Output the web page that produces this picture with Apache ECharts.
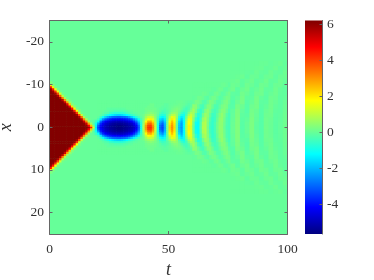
<!DOCTYPE html>
<html><head><meta charset="utf-8">
<style>html,body{margin:0;padding:0;background:#fff}#c{width:374px;height:280px;filter:blur(.4px)}</style>
<script src="https://cdn.jsdelivr.net/npm/echarts@6/dist/echarts.min.js"></script>
</head><body><div id="c"></div>
<script>
// Front triangle: t = 0.5, 1.5 ... one value per unit of t; keys are |x| rows. Unlisted cells are 0.
const triangleRowX = [0,.5,1,1.5,2,2.5,3,3.5,4,4.5,5,5.5,6,6.5,7,7.5,8,8.5,9,9.5,10,10.5];
const triangleRows = [
[6.2,6.2,6.2,6.2,6.2,6.2,6.2,6.2,6.2,6.2,6.2,6.2,6.2,6.2,6.2,6.2,5.9,4.4,1.4,-1.5],
[6.2,6.2,6.2,6.2,6.2,6.2,6.2,6.2,6.2,6.2,6.2,6.2,6.2,6.2,6.2,6,4.8,2.5,.3,-1.3],
[6.2,6.2,6.2,6.2,6.2,6.2,6.2,6.2,6.2,6.2,6.2,6.2,6.2,6.2,6.1,5.3,2.9,.6,-.2,-1],
[6.2,6.2,6.2,6.2,6.2,6.2,6.2,6.2,6.2,6.2,6.2,6.2,6.2,6.2,5.3,3.2,.6,0,-.1,-.5],
[6.2,6.2,6.2,6.2,6.2,6.2,6.2,6.2,6.2,6.2,6.2,6.2,6.2,5.6,3.2,.8,.1],
[6.2,6.2,6.2,6.2,6.2,6.2,6.2,6.2,6.2,6.2,6.2,6.2,5.7,3.5,.8,.1],
[6.2,6.2,6.2,6.2,6.2,6.2,6.2,6.2,6.2,6.2,6.2,5.8,3.8,1.1,.1],
[6.2,6.2,6.2,6.2,6.2,6.2,6.2,6.2,6.2,6.2,5.9,4.1,1.3,.1],
[6.2,6.2,6.2,6.2,6.2,6.2,6.2,6.2,6.2,6,4.4,1.7,.2],
[6.2,6.2,6.2,6.2,6.2,6.2,6.2,6.2,6.1,4.6,1.9,.2],
[6.2,6.2,6.2,6.2,6.2,6.2,6.2,6.1,4.9,2.1,.3],
[6.2,6.2,6.2,6.2,6.2,6.2,6.2,5,2.4,.3],
[6.2,6.2,6.2,6.2,6.2,6.2,5.3,2.8,.5],
[6.2,6.2,6.2,6.2,6.2,5.5,3,.6,.1],
[6.2,6.2,6.2,6.2,5.6,3.3,.8,.1],
[6.2,6.2,6.2,5.7,3.6,1,.1],
[6.2,6.2,5.8,3.9,1.3,.1],
[6.2,5.9,4.1,1.5,.1],
[6,4.5,1.7,.2],
[4.6,2,.2],
[2.1,.3],
[.3]
];
// Wake: blue blob and first oscillations, t = 20.5 ... 59.5.
const wakeRowX = [0,.5,1,1.5,2,2.5,3,3.5,4,4.5,5,5.5,6];
const wakeRows = [
[-3.5,-4.3,-4.7,-5,-5.2,-5.35,-5.45,-5.55,-5.65,-5.65,-5.6,-5.5,-5.4,-5.3,-5.1,-4.9,-4.4,-3.2,-1,.9,3,4.2,4.3,3.3,1.2,-1,-3,-3.4,-2.2,.2,2.3,3.1,2.2,-.1,-2,-2.4,-1.2,.8,1.9,1.3],
[-3.1,-4.1,-4.5,-4.9,-5.1,-5.3,-5.4,-5.5,-5.6,-5.6,-5.55,-5.45,-5.35,-5.2,-5,-4.7,-4.2,-3,-.9,.8,2.9,4,4.1,3.1,1.1,-.9,-2.9,-3.3,-2.1,.2,2.2,3,2.1,-.1,-1.9,-2.3,-1.1,.8,1.9,1.3],
[-2.3,-3.7,-4.3,-4.7,-4.9,-5.1,-5.25,-5.35,-5.4,-5.4,-5.35,-5.25,-5.15,-5,-4.8,-4.4,-3.7,-2.4,-.8,.6,2.4,3.4,3.6,2.7,1,-.9,-2.5,-3,-2,.1,2,2.8,2,0,-1.8,-2.3,-1.2,.7,1.8,1.4],
[-1.2,-2.8,-3.7,-4.2,-4.5,-4.7,-4.85,-4.95,-5,-5,-4.95,-4.85,-4.7,-4.5,-4.2,-3.7,-2.9,-1.8,-.6,.4,1.8,2.7,2.8,2.1,.8,-.7,-2.1,-2.5,-1.7,.1,1.8,2.5,1.8,.1,-1.6,-2.1,-1.2,.6,1.7,1.4],
[-.4,-1.4,-2.5,-3.2,-3.6,-3.9,-4.1,-4.2,-4.25,-4.25,-4.2,-4.1,-3.9,-3.7,-3.3,-2.6,-1.9,-1.1,-.4,.2,1.2,1.8,1.9,1.5,.6,-.5,-1.6,-1.9,-1.4,0,1.3,2,1.7,.3,-1.2,-1.8,-1.1,.4,1.5,1.4],
[-.1,-.5,-1.1,-1.7,-2.2,-2.6,-2.9,-3,-3.1,-3.1,-3,-2.9,-2.7,-2.3,-1.8,-1.3,-.8,-.4,-.1,.1,.7,1.1,1.2,1,.4,-.3,-1,-1.3,-1,-.1,.9,1.5,1.4,.5,-.8,-1.4,-1.1,.1,1.1,1.3],
[0,-.1,-.3,-.6,-.9,-1.2,-1.4,-1.6,-1.7,-1.7,-1.6,-1.4,-1.2,-.9,-.6,-.4,-.2,-.1,0,.1,.4,.6,.7,.6,.3,-.1,-.6,-.8,-.7,-.1,.5,.9,1,.5,-.3,-.9,-1,-.3,.7,1.1],
[0,0,-.1,-.2,-.3,-.5,-.6,-.7,-.7,-.7,-.7,-.6,-.4,-.3,-.2,-.1,-.1,0,0,0,.2,.3,.4,.3,.2,0,-.3,-.5,-.4,-.2,.15,.45,.6,.45,0,-.5,-.75,-.45,.25,.8],
[0,0,0,-.1,-.1,-.2,-.2,-.3,-.3,-.3,-.3,-.2,-.2,-.1,-.1,0,0,0,0,0,.1,.2,.2,.2,.1,0,-.1,-.3,-.3,-.2,0,.2,.35,.35,.15,-.2,-.45,-.45,-.15,.45],
[0,0,0,0,-.1,-.1,-.1,-.1,-.1,-.1,-.1,-.1,0,0,0,0,0,0,0,0,.1,.1,.1,.1,.1,0,-.1,-.1,-.2,-.1,0,.1,.2,.25,.2,0,-.25,-.4,-.25,.15],
[0,0,0,0,0,0,0,0,0,0,0,0,0,0,0,0,0,0,0,0,0,.1,.1,.1,0,0,0,-.1,-.1,-.1,0,.05,.1,.15,.15,.05,-.1,-.25,-.25,-.05],
[0,0,0,0,0,0,0,0,0,0,0,0,0,0,0,0,0,0,0,0,0,0,.1,.1,0,0,0,0,-.1,-.1,0,0,.05,.05,.1,.05,0,-.1,-.2,-.1],
[0,0,0,0,0,0,0,0,0,0,0,0,0,0,0,0,0,0,0,0,0,0,0,0,0,0,0,0,0,0,0,0,0,.05,.05,.05,0,-.05,-.1,-.1]
];
// Arcs, t = 60.5 ... 75.5, |x| = 0 ... 10.
const arcRowsNear = [
[0,-1.1,-1.15,-.15,.85,.9,.2,-.45,-.65,-.35,.1,.5,.45,.05,-.3,-.35],
[.1,-1,-1.15,-.25,.8,.9,.25,-.4,-.6,-.35,.1,.45,.45,.1,-.25,-.35],
[.4,-.65,-1,-.4,.55,.8,.35,-.25,-.6,-.45,0,.45,.5,.15,-.25,-.35],
[.7,-.2,-.75,-.6,.15,.6,.45,-.05,-.5,-.45,-.1,.3,.5,.25,-.15,-.35],
[.7,.25,-.35,-.6,-.25,.3,.5,.2,-.25,-.4,-.25,.1,.35,.35,.05,-.25],
[.45,.4,.05,-.3,-.4,-.05,.3,.35,.05,-.3,-.3,-.05,.2,.3,.2,-.12],
[0,.2,.2,.05,-.2,-.25,0,.25,.2,0,-.2,-.2,0,.2,.25,.05],
[-.05,0,.1,.13,.05,-.1,-.15,0,.15,.15,0,-.18,-.12,.05,.18,.15],
[0,0,0,0,.07,.06,0,-.1,-.08,.08,.14,0,-.14,-.1,.05,.15],
[0,0,0,0,0,0,0,0,-.05,-.07,0,.1,.06,-.08,-.1,0],
[0,0,0,0,0,0,0,0,0,0,0,0,.05,.07,0,-.08]
];
// Arcs, t = 77, 79 ... 99, |x| = 0 ... 15.
const arcRowsFar = [
[.05,.3,-.17,0,.25,-.07,-.18,.13,.03,-.11,-.02,.08],
[.03,.3,-.15,0,.25,-.05,-.18,.12,.05,-.11,-.03,.08],
[0,.3,-.13,-.06,.24,0,-.18,.11,.06,-.1,-.05,.08],
[-.03,.28,-.08,-.13,.2,.03,-.17,.08,.1,-.09,-.06,.07],
[-.06,.26,-.03,-.18,.16,.07,-.16,.05,.13,-.06,-.08,.06],
[-.17,.2,.06,-.17,.09,.17,-.12,-.02,.13,-.02,-.09,.04],
[-.2,.06,.18,-.14,0,.18,-.09,-.09,.12,.02,-.09,.02],
[-.14,-.03,.18,-.06,-.07,.16,-.02,-.12,.09,.06,-.08,-.02],
[-.09,-.11,.14,.03,-.11,.09,.12,-.1,.01,.1,-.05,-.06],
[.12,-.11,.03,.13,-.08,.01,.13,-.06,-.06,.1,-.02,-.07],
[.08,.03,-.08,.1,.03,-.08,.09,.06,-.09,.06,.07,-.06],
[.03,.08,-.07,.02,.09,-.07,-.02,.1,-.06,-.04,.09,0],
[0,.03,.07,-.07,.05,.03,-.07,.05,.08,-.07,.05,.06],
[0,0,0,-.03,-.05,.06,-.03,-.05,.07,-.03,-.05,.08],
[0,0,0,0,0,.02,.05,-.04,-.01,.07,-.05,.01],
[0,0,0,0,0,0,.02,.02,-.03,.01,.05,-.04]
];
const xTicks = [0,50,100];
const yTicks = [-20,-10,0,10,20];
const cbTicks = [-4,-2,0,2,4,6];
const valueMin = -5.65, valueMax = 6.23;
const jet = ['#00007f','#0000ff','#007fff','#00ffff','#7fff7f','#ffff00','#ff7f00','#ff0000','#7f0000'];

const cells = [];
function addBlock(rows, rowX, tStart, dt, dx) {
  rows.forEach((row, i) => row.forEach((v, j) => {
    const t = tStart + (j + .5) * dt, r = rowX ? rowX[i] : i;
    cells.push([t, r, v, dt, dx]);
    if (r !== 0) cells.push([t, -r, v, dt, dx]);
  }));
}
addBlock(triangleRows, triangleRowX, 0, 1, .5);
addBlock(wakeRows, wakeRowX, 20, 1, .5);
addBlock(arcRowsNear, null, 60, 1, 1);
addBlock(arcRowsFar, null, 76, 2, 1);

const serif = '"Liberation Serif", "DejaVu Serif", serif';
const tc = '#333', lc = '#666';
const label = {fontFamily: serif, fontSize: 13.5, color: tc};
const line = {show: true, onZero: false, lineStyle: {color: lc, width: 1}};
const tick = v => ({show: true, inside: true, length: 3, customValues: v, lineStyle: {color: lc, width: 1}});
const blank = {axisLabel: {show: false}, splitLine: {show: false}, name: ''};

const chart = echarts.init(document.getElementById('c'), null, {renderer: 'canvas'});
chart.setOption({
  animation: false,
  backgroundColor: '#fff',
  grid: [
    {left: 49.5, top: 20.5, width: 238, height: 213.5, backgroundColor: '#66ff99', show: true, borderWidth: 0, outerBoundsMode: 'none', containLabel: false},
    {left: 305, top: 20.5, width: 17.5, height: 213.5, outerBoundsMode: 'none', containLabel: false}
  ],
  xAxis: [
    {gridIndex: 0, type: 'value', min: 0, max: 100, position: 'bottom', z: 10,
     axisLine: line, axisTick: tick(xTicks), splitLine: {show: false},
     axisLabel: {...label, margin: 8, customValues: xTicks},
     name: 't', nameLocation: 'middle', nameGap: 26,
     nameTextStyle: {fontFamily: serif, fontStyle: 'italic', fontSize: 18, color: tc}},
    {gridIndex: 0, type: 'value', min: 0, max: 100, position: 'top', z: 10,
     axisLine: line, axisTick: tick(xTicks), ...blank},
    {gridIndex: 1, type: 'value', min: 0, max: 1, show: false}
  ],
  yAxis: [
    {gridIndex: 0, type: 'value', min: -25, max: 25, inverse: true, position: 'left', z: 10,
     axisLine: line, axisTick: tick(yTicks), splitLine: {show: false},
     axisLabel: {...label, margin: 5.5, customValues: yTicks},
     name: 'x', nameLocation: 'middle', nameGap: 25,
     nameTextStyle: {fontFamily: serif, fontStyle: 'italic', fontSize: 18, color: tc}},
    {gridIndex: 0, type: 'value', min: -25, max: 25, inverse: true, position: 'right', z: 10,
     axisLine: line, axisTick: tick(yTicks), ...blank},
    {gridIndex: 1, type: 'value', min: valueMin, max: valueMax, position: 'right', z: 10,
     axisLine: line, axisTick: tick(cbTicks), splitLine: {show: false},
     axisLabel: {...label, margin: 4.5, customValues: cbTicks}}
  ],
  visualMap: {show: false, seriesIndex: 0, dimension: 2, min: valueMin, max: valueMax, inRange: {color: jet}},
  series: [
    {type: 'custom', xAxisIndex: 0, yAxisIndex: 0, clip: true, data: cells,
     encode: {x: 0, y: 1}, silent: true,
     renderItem(params, api) {
       const t = api.value(0), x = api.value(1), dt = api.value(3), dx = api.value(4);
       const a = api.coord([t - dt / 2, x - dx / 2]), b = api.coord([t + dt / 2, x + dx / 2]);
       return {type: 'rect', shape: {x: a[0], y: a[1], width: b[0] - a[0] + .6, height: b[1] - a[1] + .6},
               style: {fill: api.visual('color')}};
     }},
    {type: 'custom', xAxisIndex: 2, yAxisIndex: 2, data: [[0, valueMin, 1, valueMax]], silent: true,
     renderItem(params, api) {
       const a = api.coord([api.value(0), api.value(3)]), b = api.coord([api.value(2), api.value(1)]);
       return {type: 'rect', shape: {x: a[0], y: a[1], width: b[0] - a[0], height: b[1] - a[1]},
               style: {fill: new echarts.graphic.LinearGradient(0, 1, 0, 0,
                 jet.map((c, i) => ({offset: i / (jet.length - 1), color: c})))}};
     }}
  ]
});
</script></body></html>
